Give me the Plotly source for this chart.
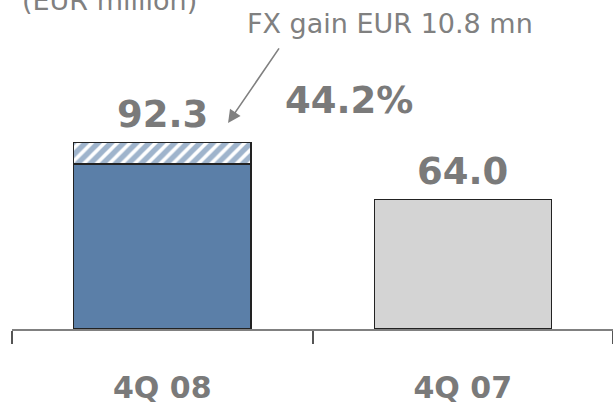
import plotly.graph_objects as go

quarters = ["4Q 08", "4Q 07"]
total = [92.3, 64.0]
fx_gain = [10.8, 0.0]
bar_colors = ["#5b7fa8", "#d4d4d4"]

underlying = [t - f for t, f in zip(total, fx_gain)]
growth = (total[0] / total[1] - 1) * 100

GREY = "#7a7a7a"
BOLD = dict(family="DejaVu Sans", size=37, color=GREY, weight="bold")

fig = go.Figure()
fig.add_trace(go.Bar(
    x=quarters, y=underlying,
    marker=dict(color=bar_colors, line=dict(color="#222222", width=1.2)),
    width=0.59, hoverinfo="skip"
))
fig.add_trace(go.Bar(
    x=quarters, y=fx_gain,
    marker=dict(
        color="white",
        line=dict(color="#222222", width=1.2),
        pattern=dict(shape="/", fgcolor="#3f6a9a", bgcolor="white", size=9, solidity=0.6),
    ),
    width=0.59, hoverinfo="skip"
))

# value labels above bars
for q, t in zip(quarters, total):
    fig.add_annotation(x=q, y=t, text=f"{t:.1f}", showarrow=False,
                       yanchor="bottom", yshift=4, font=BOLD)

fig.add_annotation(x=0.623, y=113, text=f"{growth:.1f}%", showarrow=False,
                   yanchor="middle", font=BOLD)

# FX gain callout
fig.add_annotation(x=0.219, y=101.8, text="", showarrow=True,
                   ax=52, ay=-76, arrowhead=2, arrowsize=1.6, arrowwidth=1.6,
                   arrowcolor="#808080")
fig.add_annotation(x=0.758, y=151, text=f"FX gain EUR {fx_gain[0]} mn", showarrow=False,
                   yanchor="middle",
                   font=dict(family="DejaVu Sans", size=27, color="#808080"))

fig.add_annotation(xref="paper", yref="paper", x=0.013, y=1, xanchor="left",
                   yanchor="bottom", yshift=-18, text="(EUR million)", showarrow=False,
                   font=dict(family="DejaVu Sans", size=27, color="#808080"))

fig.update_layout(
    width=613, height=404,
    barmode="stack", showlegend=False,
    plot_bgcolor="white", paper_bgcolor="white",
    margin=dict(l=12, r=0, t=0, b=75),
    xaxis=dict(
        range=[-0.5, 1.5], showline=True, linecolor="#808080", linewidth=2,
        ticks="outside", tickson="boundaries", ticklen=13, tickwidth=1.5,
        tickcolor="#555555", ticklabelstandoff=31, showgrid=False,
        tickfont=dict(family="DejaVu Sans", size=30, color=GREY, weight="bold"),
    ),
    yaxis=dict(range=[0, 162.5], visible=False),
)

fig.write_html("out.html", config={"displayModeBar": False},
               post_script="document.body.style.margin='0';")
